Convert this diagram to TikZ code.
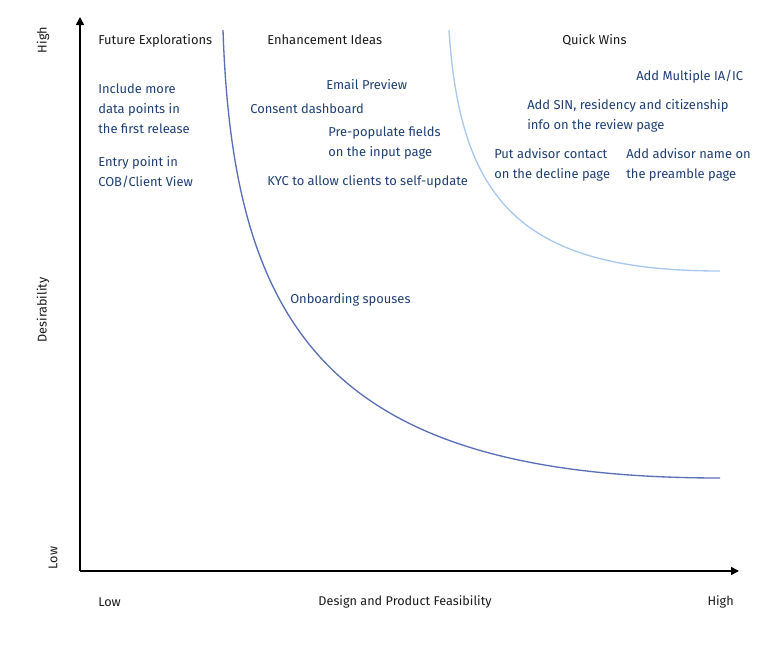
\documentclass[tikz,border=0pt]{standalone}
\usepackage{fontspec}
\setmainfont{Fira Sans}
\usetikzlibrary{arrows.meta}
\definecolor{itemblue}{HTML}{1F3F73}
\definecolor{headblack}{HTML}{1A1A1A}
\definecolor{darkcurve}{HTML}{5A6FB8}
\definecolor{lightcurve}{HTML}{A8C8EE}
\tikzset{
  item/.style={anchor=west, inner sep=0pt, text=itemblue, font=\fontsize{9.7}{15}\selectfont, align=left},
  head/.style={anchor=west, inner sep=0pt, text=headblack, font=\fontsize{9.7}{15}\selectfont},
  axlabel/.style={inner sep=0pt, text=headblack, font=\fontsize{9.5}{12}\selectfont},
  axis/.style={line width=1.2pt, -{Triangle[length=6pt,width=6pt]}, black},
}
\begin{document}
\begin{tikzpicture}[x=0.75pt,y=-0.75pt]
\useasboundingbox (0,0) rectangle (768,646);
% axes
\coordinate (origin) at (80,571);
\coordinate (ytop) at (80,17);
\coordinate (xend) at (739,571);
\draw[axis] (origin) -- (ytop);
\draw[axis] (origin) -- (xend);
% curves
\coordinate (d0) at (223,30);
\coordinate (d1) at (720,478);
\coordinate (l0) at (449,30);
\coordinate (l1) at (720,271);
\draw[darkcurve, line width=1pt] (d0) .. controls (233,330) and (330,478) .. (d1);
\draw[lightcurve, line width=1pt] (l0) .. controls (460,200) and (520,271) .. (l1);
% axis labels
\node[axlabel, rotate=90] (yhigh) at (43,40) {High};
\node[axlabel, rotate=90] (ydes) at (43,310) {Desirability};
\node[axlabel, rotate=90] (ylow) at (53,558) {Low};
\node[axlabel, anchor=west] (xlow) at (98,602) {Low};
\node[axlabel] (xdes) at (405,602) {Design and Product Feasibility};
\node[axlabel, anchor=east] (xhigh) at (734,602) {High};
% headings
\node[head] (fe) at (98,41) {Future Explorations};
\node[head] (ei) at (267,40) {Enhancement Ideas};
\node[head] (qw) at (562,40) {Quick Wins};
% items
\node[item] (i1) at (98,109) {Include more\\data points in\\the first release};
\node[item] (i2) at (98,172) {Entry point in\\COB/Client View};
\node[item] (i3) at (326,85) {Email Preview};
\node[item] (i4) at (250,109) {Consent dashboard};
\node[item] (i5) at (328,143) {Pre-populate fields\\on the input page};
\node[item] (i6) at (267,182) {KYC to allow clients to self-update};
\node[item] (i7) at (290,300) {Onboarding spouses};
\node[item] (i8) at (636,77) {Add Multiple IA/IC};
\node[item] (i9) at (527,116) {Add SIN, residency and citizenship\\info on the review page};
\node[item] (i10) at (494,165) {Put advisor contact\\on the decline page};
\node[item] (i11) at (626,165) {Add advisor name on\\the preamble page};
\end{tikzpicture}
\end{document}
